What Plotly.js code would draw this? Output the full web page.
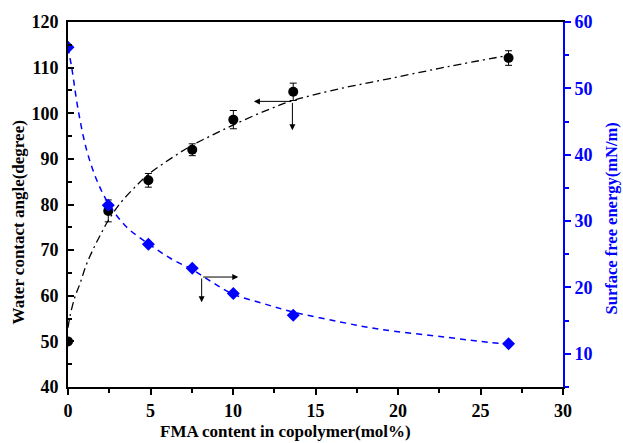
<!DOCTYPE html>
<html>
<head>
<meta charset="utf-8">
<script src="https://cdn.plot.ly/plotly-3.0.1.min.js"></script>
<style>html,body{margin:0;padding:0;background:#fff;}#chart{width:623px;height:443px;}</style>
</head>
<body>
<div id="chart"></div>
<script>
// Measured data
const fmaContent = [0, 2.44, 4.87, 7.53, 10.02, 13.65, 26.7];
const contactAngle = [50.0, 78.6, 85.3, 92.0, 98.6, 104.7, 112.1];
const contactAngleErr = [0, 2.4, 1.5, 1.3, 2.0, 1.9, 1.6];
const surfaceEnergy = [56.2, 32.4, 26.5, 22.9, 19.1, 15.8, 11.5];

// Fitted curves
const angleFitX = [0, 0.12, 0.4, 0.73, 1.1, 1.54, 2.0, 2.44, 3.15, 4.0, 4.87, 6.2, 7.53, 8.8, 10.0, 11.8, 13.65, 16.5, 19.5, 23.0, 26.7];
const angleFitY = [53.0, 55.5, 59.5, 62.7, 66.7, 70.3, 73.6, 76.5, 80.2, 83.6, 86.6, 90.0, 93.0, 95.3, 97.4, 100.3, 102.8, 105.4, 107.6, 110.2, 112.7];
const energyFitX = [0, 0.22, 0.62, 1.13, 1.74, 2.44, 3.55, 4.87, 6.2, 7.6, 8.8, 10.0, 11.8, 13.65, 16.5, 18.9, 22.95, 25.6, 26.7];
const energyFitY = [56.2, 53.2, 46.7, 40.7, 36.2, 32.7, 29.1, 26.6, 24.4, 22.6, 20.7, 19.0, 17.6, 16.3, 14.8, 13.7, 12.5, 11.7, 11.5];

const xTickVals = [0, 5, 10, 15, 20, 25, 30];
const yTickVals = [40, 50, 60, 70, 80, 90, 100, 110, 120];
const y2TickVals = [10, 20, 30, 40, 50, 60];

const xTitle = 'FMA content in copolymer(mol%)';
const yTitle = 'Water contact angle(degree)';
const y2Title = 'Surface free energy(mN/m)';

const FONT = 'Liberation Serif, Times New Roman, serif';
const BLUE = '#0000ff';
const bold = v => v.map(t => '<b>' + t + '</b>');

const traces = [
  {x: angleFitX, y: angleFitY, type: 'scatter', mode: 'lines', line: {color: '#000', width: 1.3, dash: '8px,4px,2px,4px', shape: 'spline'}, hoverinfo: 'skip', cliponaxis: true},
  {x: energyFitX, y: energyFitY, yaxis: 'y2', type: 'scatter', mode: 'lines', line: {color: BLUE, width: 1.5, dash: '6px,5px', shape: 'spline'}, hoverinfo: 'skip', cliponaxis: true},
  {x: fmaContent, y: contactAngle, type: 'scatter', mode: 'markers', marker: {symbol: 'circle', size: 10, color: '#000'},
   error_y: {type: 'data', array: contactAngleErr, visible: true, color: '#000', thickness: 1, width: 3.5}, cliponaxis: true},
  {x: fmaContent, y: surfaceEnergy, yaxis: 'y2', type: 'scatter', mode: 'markers', marker: {symbol: 'diamond', size: 10, color: BLUE}, cliponaxis: true}
];

const arrowStyle = {text: '', showarrow: true, arrowhead: 2, arrowsize: 1.2, arrowwidth: 1, arrowcolor: '#000', axref: 'x', ayref: 'y', xref: 'x', yref: 'y', standoff: 0, startstandoff: 0};
const titleStyle = {showarrow: false, xref: 'paper', yref: 'paper', xanchor: 'center', yanchor: 'middle', borderpad: 0};

const layout = {
  width: 623, height: 443,
  margin: {l: 68, r: 60, t: 22, b: 56},
  paper_bgcolor: '#fff', plot_bgcolor: '#fff',
  showlegend: false,
  font: {family: FONT, color: '#000'},
  xaxis: {
    range: [0, 30], tickvals: xTickVals, ticktext: bold(xTickVals), ticks: 'outside', ticklen: 6, tickwidth: 2, tickcolor: '#000',
    minor: {dtick: 2.5, ticks: 'outside', ticklen: 4, tickwidth: 2, tickcolor: '#000'},
    showline: true, linecolor: '#000', linewidth: 2, mirror: true, showgrid: false, zeroline: false,
    tickfont: {family: FONT, size: 18, color: '#000', weight: 700}
  },
  yaxis: {
    range: [40, 120], tickvals: yTickVals, ticktext: bold(yTickVals), ticks: 'inside', ticklen: 6, tickwidth: 2, tickcolor: '#000',
    minor: {dtick: 5, ticks: 'inside', ticklen: 4, tickwidth: 2, tickcolor: '#000'},
    showline: true, linecolor: '#000', linewidth: 2, showgrid: false, zeroline: false,
    tickfont: {family: FONT, size: 18, color: '#000', weight: 700},
    ticklabelstandoff: 4
  },
  yaxis2: {
    overlaying: 'y', side: 'right', range: [5, 60], tickvals: y2TickVals, ticktext: bold(y2TickVals),
    ticks: 'outside', ticklen: 6, tickwidth: 2, tickcolor: BLUE,
    minor: {dtick: 5, ticks: 'outside', ticklen: 4, tickwidth: 2, tickcolor: BLUE},
    showline: true, linecolor: BLUE, linewidth: 2, showgrid: false, zeroline: false,
    tickfont: {family: FONT, size: 18, color: BLUE, weight: 700}
  },
  annotations: [
    Object.assign({}, arrowStyle, {x: 11.27, y: 102.6, ax: 13.6, ay: 102.6}),
    Object.assign({}, arrowStyle, {x: 13.6, y: 96.3, ax: 13.6, ay: 102.6}),
    Object.assign({}, arrowStyle, {x: 10.32, y: 64.1, ax: 8.1, ay: 64.1}),
    Object.assign({}, arrowStyle, {x: 8.1, y: 58.6, ax: 8.1, ay: 64.1}),
    Object.assign({}, titleStyle, {text: '<b>' + xTitle + '</b>', x: 0.44, y: -0.122, font: {family: FONT, size: 17, color: '#000'}}),
    Object.assign({}, titleStyle, {text: '<b>' + yTitle + '</b>', x: -0.101, y: 0.451, textangle: -90, font: {family: FONT, size: 17, color: '#000'}}),
    Object.assign({}, titleStyle, {text: '<b>' + y2Title + '</b>', x: 1.097, y: 0.462, textangle: -90, font: {family: FONT, size: 16.5, color: BLUE}})
  ]
};

Plotly.newPlot('chart', traces, layout, {staticPlot: true, displayModeBar: false});
</script>
</body>
</html>
